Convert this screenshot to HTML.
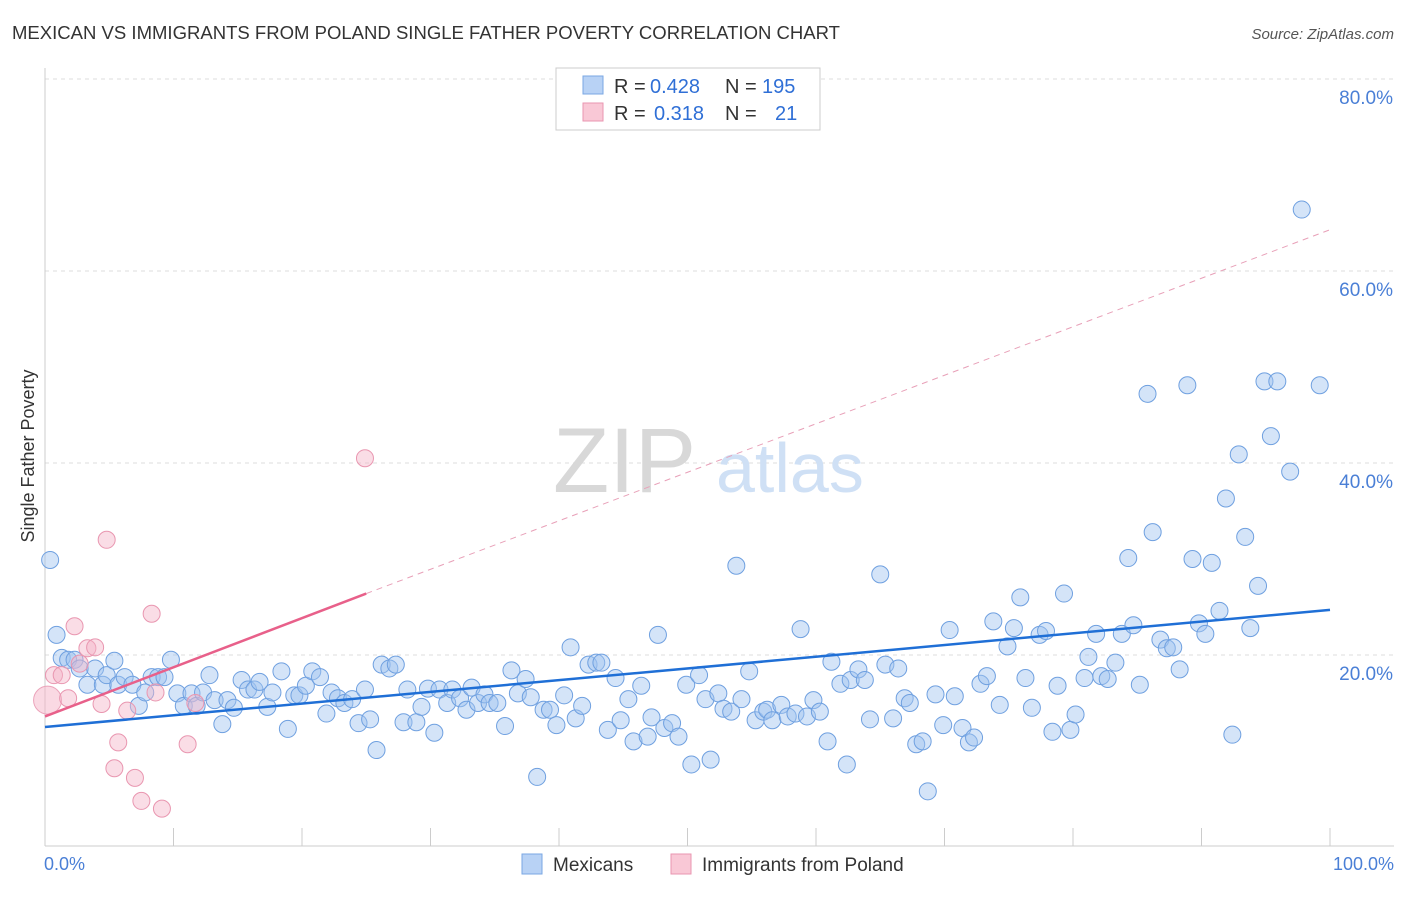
<!DOCTYPE html>
<html><head><meta charset="utf-8"><style>
body{margin:0;background:#fff;font-family:"Liberation Sans",sans-serif}
svg text{font-family:"Liberation Sans",sans-serif}
</style></head><body>
<svg id="chart" width="1406" height="892">
<text x="12" y="39" font-size="18" fill="#333" textLength="828" lengthAdjust="spacingAndGlyphs">MEXICAN VS IMMIGRANTS FROM POLAND SINGLE FATHER POVERTY CORRELATION CHART</text>
<text x="1394" y="39" font-size="15" fill="#555" font-style="italic" text-anchor="end">Source: ZipAtlas.com</text>
<g id="grid"></g>
<g><text x="553" y="492" font-size="92" fill="#d8d8d8" font-family="Liberation Serif">ZIP</text><text x="716" y="492" font-size="70" fill="#cfe0f5">atlas</text></g>
<line x1="45" y1="68" x2="45" y2="846" stroke="#ccc"/>
<line x1="45" y1="846" x2="1394" y2="846" stroke="#ccc"/>
<g id="xticks"></g>
<text x="34" y="456" font-size="18" fill="#333" transform="rotate(-90 34 456)" text-anchor="middle">Single Father Poverty</text>
<text x="44" y="870" font-size="18" fill="#4a7fd6">0.0%</text>
<text x="1394" y="870" font-size="18" fill="#4a7fd6" text-anchor="end">100.0%</text>
<g id="pts"></g>
<g id="trends"></g>
<g font-size="20">
<rect x="556" y="68" width="264" height="62" fill="#fff" stroke="#ccc"/>
<rect x="583" y="76" width="20" height="18" fill="#b8d2f5" stroke="#7aa7e3"/>
<rect x="583" y="103" width="20" height="18" fill="#f9c8d6" stroke="#e996b0"/>
<text x="614" y="93" fill="#333">R =</text><text x="650" y="93" fill="#2f6fd6">0.428</text><text x="725" y="93" fill="#333">N =</text><text x="762" y="93" fill="#2f6fd6">195</text>
<text x="614" y="120" fill="#333">R =</text><text x="654" y="120" fill="#2f6fd6">0.318</text><text x="725" y="120" fill="#333">N =</text><text x="775" y="120" fill="#2f6fd6">21</text>
</g>
<g>
<rect x="522" y="854" width="20" height="20" fill="#b8d2f5" stroke="#7aa7e3"/>
<text x="553" y="871" font-size="19" fill="#333">Mexicans</text>
<rect x="671" y="854" width="20" height="20" fill="#f9c8d6" stroke="#e996b0"/>
<text x="702" y="871" font-size="19" fill="#333">Immigrants from Poland</text>
</g>
</svg>
<script>
const yTicks=[20,40,60,80];
const blueX=[0.4,0.9,1.3,1.8,2.3,2.7,3.3,3.9,4.5,4.8,5.4,5.7,6.2,6.8,7.3,7.8,8.3,8.8,9.3,9.8,10.3,10.8,11.4,11.8,12.3,12.8,13.2,13.8,14.2,14.7,15.3,15.8,16.3,16.7,17.3,17.7,18.4,18.9,19.4,19.8,20.3,20.8,21.4,21.9,22.3,22.8,23.3,23.9,24.4,24.9,25.3,25.8,26.2,26.8,27.3,27.9,28.2,28.9,29.3,29.8,30.3,30.7,31.3,31.7,32.3,32.8,33.2,33.7,34.2,34.6,35.2,35.8,36.3,36.8,37.4,37.8,38.3,38.8,39.3,39.8,40.4,40.9,41.3,41.8,42.3,42.9,43.3,43.8,44.4,44.8,45.4,45.8,46.4,46.9,47.2,47.7,48.2,48.8,49.3,49.9,50.3,50.9,51.4,51.8,52.4,52.8,53.4,53.8,54.2,54.8,55.3,55.9,56.2,56.6,57.3,57.8,58.4,58.8,59.3,59.8,60.3,60.9,61.2,61.9,62.4,62.7,63.3,63.8,64.2,65.0,65.4,66.0,66.4,66.9,67.3,67.8,68.3,68.7,69.3,69.9,70.4,70.8,71.4,71.9,72.3,72.8,73.3,73.8,74.3,74.9,75.4,75.9,76.3,76.8,77.4,77.9,78.4,78.8,79.3,79.8,80.2,80.9,81.2,81.8,82.2,82.7,83.3,83.8,84.3,84.7,85.2,85.8,86.2,86.8,87.3,87.8,88.3,88.9,89.3,89.8,90.3,90.8,91.4,91.9,92.4,92.9,93.4,93.8,94.4,94.9,95.4,95.9,96.9,97.8,99.2];
const blueY=[29.9,22.1,19.7,19.5,19.5,18.6,16.9,18.6,16.9,17.9,19.4,16.9,17.7,16.9,14.7,16.1,17.7,17.7,17.7,19.5,16.0,14.7,16.0,14.7,16.1,17.9,15.3,12.8,15.3,14.5,17.4,16.4,16.4,17.2,14.6,16.1,18.3,12.3,15.8,15.8,16.8,18.3,17.7,13.9,16.1,15.5,15.0,15.4,12.9,16.4,13.3,10.1,19.0,18.6,19.0,13.0,16.4,13.0,14.6,16.5,11.9,16.4,15.0,16.4,15.5,14.3,16.6,15.0,15.9,15.0,15.0,12.6,18.4,16.0,17.5,15.6,7.3,14.3,14.3,12.7,15.8,20.8,13.4,14.7,19.0,19.2,19.2,12.2,17.6,13.2,15.4,11.0,16.8,11.5,13.5,22.1,12.4,12.9,11.5,16.9,8.6,17.9,15.4,9.1,16.0,14.4,14.1,29.3,15.4,18.3,13.2,14.1,14.3,13.2,14.8,13.6,13.9,22.7,13.6,15.3,14.1,11.0,19.3,17.0,8.6,17.4,18.5,17.4,13.3,28.4,19.0,13.4,18.6,15.5,15.0,10.7,11.0,5.8,15.9,12.7,22.6,15.7,12.4,10.9,11.4,17.0,17.8,23.5,14.8,20.9,22.8,26.0,17.6,14.5,22.1,22.5,12.0,16.8,26.4,12.2,13.8,17.6,19.8,22.2,17.8,17.5,19.2,22.2,30.1,23.1,16.9,47.2,32.8,21.6,20.7,20.8,18.5,48.1,30.0,23.3,22.2,29.6,24.6,36.3,11.7,40.9,32.3,22.8,27.2,48.5,42.8,48.5,39.1,66.4,48.1];
const pinkX=[0.7,1.3,1.8,2.3,3.3,3.9,4.4,4.8,5.7,5.4,6.4,7.0,7.5,8.3,8.6,9.1,11.1,11.7,24.9,2.7];
const pinkY=[17.9,17.9,15.5,23.0,20.7,20.8,14.9,32.0,10.9,8.2,14.2,7.2,4.8,24.3,16.1,4.0,10.7,15.0,40.5,19.1];
const blueTrend=[12.5,24.7];
const pinkTrend=[13.6,26.4,64.3];
const X0=45,X1=1330,Y0=847,PY=9.6;
const sx=v=>X0+v*(X1-X0)/100, sy=v=>Y0-v*PY;
const NS="http://www.w3.org/2000/svg";
function mk(t,a,p){const e=document.createElementNS(NS,t);for(const k in a)e.setAttribute(k,a[k]);p.appendChild(e);return e;}
const grid=document.getElementById('grid');
yTicks.forEach(t=>{
const l=mk('line',{x1:45,x2:1394,y1:sy(t),y2:sy(t),stroke:'#ddd','stroke-dasharray':'4 4'},grid);


const tx=mk('text',{x:1393,y:sy(t)+25,'font-size':19,fill:'#4a7fd6','text-anchor':'end'},grid);
tx.textContent=t.toFixed(1)+'%';


});
const xt=document.getElementById('xticks');
for(let i=1;i<=10;i++){const l=mk('line',{x1:sx(i*10),x2:sx(i*10),y1:828,y2:846,stroke:'#ccc'},xt);

}
const pts=document.getElementById('pts');
const big=mk('circle',{cx:sx(0.2),cy:sy(15.3),r:14,fill:'rgba(245,180,200,0.5)',stroke:'#eba3ba'},pts);


blueX.forEach((x,i)=>{const c=mk('circle',{cx:sx(x),cy:sy(blueY[i]),r:8.5,fill:'rgba(160,196,240,0.45)',stroke:'#6fa0e0','stroke-width':1},pts);

});
pinkX.forEach((x,i)=>{const c=mk('circle',{cx:sx(x),cy:sy(pinkY[i]),r:8.5,fill:'rgba(245,180,200,0.45)',stroke:'#e996b0','stroke-width':1},pts);

});
const tr=document.getElementById('trends');
const b=mk('line',{x1:sx(0),y1:sy(blueTrend[0]),x2:sx(100),y2:sy(blueTrend[1]),stroke:'#1f6fd6','stroke-width':2.5},tr);


const pd=mk('line',{x1:sx(25),y1:sy(pinkTrend[1]),x2:sx(100),y2:sy(pinkTrend[2]),stroke:'#e8a0b8','stroke-width':1,'stroke-dasharray':'6 5'},tr);


const p=mk('line',{x1:sx(0),y1:sy(pinkTrend[0]),x2:sx(25),y2:sy(pinkTrend[1]),stroke:'#e8608a','stroke-width':2.5},tr);


</script>
</body></html>
